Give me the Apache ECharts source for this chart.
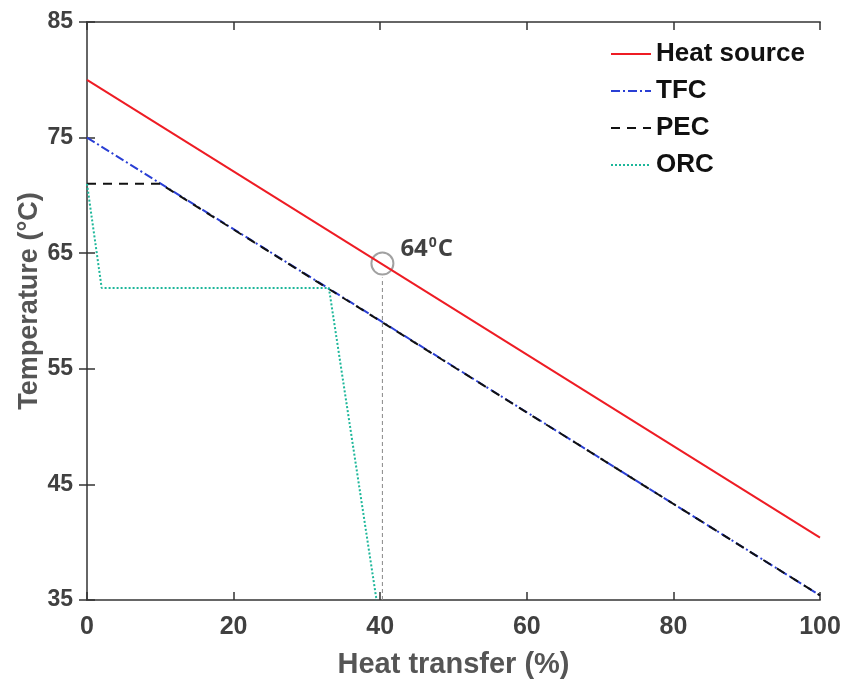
<!DOCTYPE html>
<html>
<head>
<meta charset="utf-8">
<script src="https://cdn.jsdelivr.net/npm/echarts@6/dist/echarts.min.js"></script>
<style>html,body{margin:0;padding:0;background:#fff;}#c{width:846px;height:682px;}</style>
</head>
<body>
<div id="c"></div>
<script>
// ---- data ----
const heatSource = [[0, 80], [100, 40.4]];
const tfc = [[0, 75], [100, 35.4]];
const pec = [[0, 71], [10, 71], [100, 35.4]];
const orc = [[0, 71], [2, 62], [33, 62], [39.5, 35]];
const markPoint = [[40.3, 64.1]];
const markLine = [[40.3, 35], [40.3, 62.9]];
const xTicks = [0, 20, 40, 60, 80, 100];
const yTicks = [35, 45, 55, 65, 75, 85];

const axisGrey = '#666';
const labelColor = '#404040';
const narrow = 'Liberation Sans Narrow, Liberation Sans, Arial, sans-serif';
const wide = 'Liberation Sans, Arial, sans-serif';

const chart = echarts.init(document.getElementById('c'));
const baseX = {
  type: 'value', min: xTicks[0], max: xTicks[xTicks.length - 1], interval: 20,
  axisLine: {show: true, lineStyle: {color: axisGrey, width: 2}},
  axisTick: {show: true, inside: true, length: 8, lineStyle: {color: '#333', width: 1.5}},
  splitLine: {show: false}
};
const baseY = {
  type: 'value', min: yTicks[0], max: yTicks[yTicks.length - 1], interval: 10,
  axisLine: {show: true, lineStyle: {color: axisGrey, width: 2}},
  axisTick: {show: true, inside: true, length: 8, lineStyle: {color: '#333', width: 1.5}},
  splitLine: {show: false}
};
chart.setOption({
  animation: false,
  grid: {left: 87, right: 26, top: 22, bottom: 82, outerBoundsMode: 'none', containLabel: false},
  xAxis: [
    Object.assign({}, baseX, {
      position: 'bottom',
      name: 'Heat transfer (%)', nameLocation: 'middle', nameGap: 50, nameMoveOverlap: false,
      nameTextStyle: {fontFamily: wide, fontWeight: 'bold', fontSize: 29, color: '#555'},
      axisLabel: {show: true, margin: 15, fontFamily: narrow, fontWeight: 'bold', fontSize: 25, color: labelColor}
    }),
    Object.assign({}, baseX, {position: 'top', axisLabel: {show: false}})
  ],
  yAxis: [
    Object.assign({}, baseY, {
      position: 'left',
      name: 'Temperature (°C)', nameLocation: 'middle', nameGap: 44, nameMoveOverlap: false,
      nameTextStyle: {fontFamily: wide, fontWeight: 'bold', fontSize: 27, color: '#555', padding: [0, 0, 0, 20]},
      axisLabel: {show: true, margin: 14, fontFamily: wide, fontWeight: 'bold', fontSize: 23, color: labelColor}
    }),
    Object.assign({}, baseY, {position: 'right', axisLabel: {show: false}})
  ],
  legend: {
    data: ['Heat source', 'TFC', 'PEC', 'ORC'],
    orient: 'vertical', left: 605, top: 36,
    itemWidth: 40, itemHeight: 20, itemGap: 11,
    backgroundColor: '#fff',
    itemStyle: {opacity: 0},
    textStyle: {fontFamily: wide, fontWeight: 'bold', fontSize: 26, color: '#111'}
  },
  series: [
    {name: 'Heat source', type: 'line', data: heatSource, symbol: 'none',
     lineStyle: {color: '#ee1c24', width: 2}, itemStyle: {color: '#ee1c24'}},
    {name: 'TFC', type: 'line', data: tfc, symbol: 'none',
     lineStyle: {color: '#2a3fd4', width: 2, type: [9, 3, 2, 3]}, itemStyle: {color: '#2a3fd4'}},
    {name: 'PEC', type: 'line', data: pec, symbol: 'none',
     lineStyle: {color: '#111', width: 2, type: [9, 7]}, itemStyle: {color: '#111'}},
    {name: 'ORC', type: 'line', data: orc, symbol: 'none',
     lineStyle: {color: '#1db79a', width: 2, type: [2, 2]}, itemStyle: {color: '#1db79a'}},
    {name: 'mark', type: 'line', data: markLine, symbol: 'none',
     lineStyle: {color: '#888', width: 1, type: [4, 3]}},
    {name: 'point', type: 'scatter', data: markPoint, symbol: 'circle', symbolSize: 22,
     itemStyle: {color: 'rgba(0,0,0,0)', borderColor: '#8a8a8a', borderWidth: 2},
     label: {show: true, position: [30, -16],
       formatter: '{a|64}{b|0}{a|C}',
       rich: {
         a: {fontFamily: 'Open Sans, Liberation Sans', fontWeight: 'bold', fontSize: 24, color: '#111'},
         b: {fontFamily: 'Open Sans, Liberation Sans', fontWeight: 'bold', fontSize: 14, color: '#111', padding: [0, 1, 14, 1]}
       }}}
  ]
});
</script>
</body>
</html>
